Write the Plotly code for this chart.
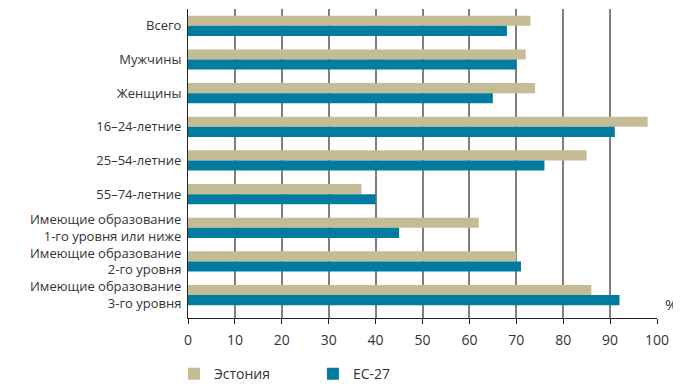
import plotly.graph_objects as go

categories = [
    "Всего",
    "Мужчины",
    "Женщины",
    "16–24-летние",
    "25–54-летние",
    "55–74-летние",
    "Имеющие образование<br>1-го уровня или ниже",
    "Имеющие образование<br>2-го уровня",
    "Имеющие образование<br>3-го уровня",
]
estonia = [73, 72, 74, 98, 85, 37, 62, 70, 86]
eu27 = [68, 70, 65, 91, 76, 40, 45, 71, 92]
x_ticks = list(range(0, 101, 10))

FONT = "Open Sans"

fig = go.Figure()
fig.add_trace(go.Bar(y=categories, x=estonia, orientation="h", name="Эстония",
                     marker=dict(color="#C4BC94", line=dict(width=0))))
fig.add_trace(go.Bar(y=categories, x=eu27, orientation="h", name="ЕС-27",
                     marker=dict(color="#007CA0", line=dict(width=0))))

# page body has an 8px margin, so the figure is sized to fit inside 681x384
fig.update_layout(
    width=673,
    height=376,
    barmode="group",
    bargap=0.4,
    bargroupgap=0,
    plot_bgcolor="white",
    paper_bgcolor="white",
    margin=dict(l=180, r=24, t=1, b=66, autoexpand=False),
    font=dict(family=FONT, size=14, color="#333333"),
    legend=dict(orientation="h", x=-0.03, y=-0.13, xanchor="left", yanchor="top",
                entrywidth=94, entrywidthmode="pixels",
                font=dict(size=14, color="#333333")),
    showlegend=True,
)

fig.update_xaxes(
    range=[0, 100],
    tickvals=x_ticks,
    showgrid=True,
    gridcolor="#7f7f7f",
    gridwidth=1.5,
    zeroline=False,
    showline=True,
    linecolor="#222222",
    linewidth=1,
    ticks="outside",
    ticklen=5,
    tickcolor="#222222",
    ticklabelstandoff=4,
    tickfont=dict(size=14, color="#333333"),
)
fig.update_yaxes(
    range=[8.68, -0.5],
    showgrid=False,
    showline=True,
    linecolor="#222222",
    linewidth=1,
    ticks="",
    ticklabelstandoff=3,
    tickfont=dict(size=13, color="#333333"),
)

fig.add_annotation(text="%", x=1.03, y=0.045, xref="paper", yref="paper",
                   xanchor="center", yanchor="middle", showarrow=False,
                   font=dict(size=15, color="#333333"))

fig.write_html("out.html")
